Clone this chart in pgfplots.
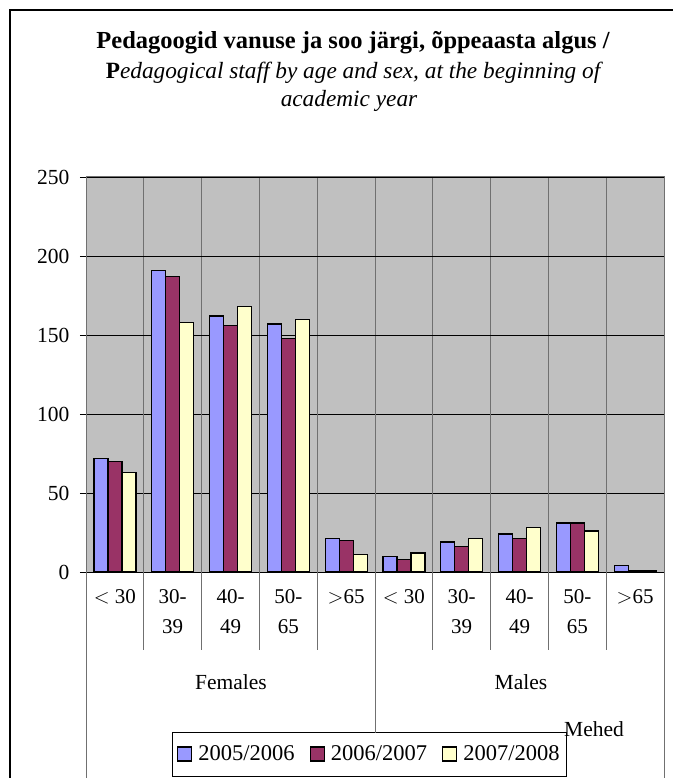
\documentclass[border=0pt]{standalone}
\usepackage{fontspec}
\setmainfont{Liberation Serif}
\usepackage{pgfplots}
\pgfplotsset{compat=1.18}

\definecolor{sA}{HTML}{9999FF}
\definecolor{sB}{HTML}{993366}
\definecolor{sC}{HTML}{FFFFCC}
\definecolor{plotbg}{HTML}{C0C0C0}
\definecolor{divgray}{HTML}{707070}

\begin{document}
\begin{tikzpicture}[x=1pt,y=1pt]
\useasboundingbox (0,0) rectangle (673,778);
\fill[white] (0,0) rectangle (673,778);
\draw[black, line width=1.2pt] (10,0) -- (10,768) -- (673,768);

% title
\node[font=\fontsize{24.5}{28}\selectfont\bfseries] at (353,735) {Pedagoogid vanuse ja soo järgi, õppeaasta algus /};
\node[font=\fontsize{23.3}{27}\selectfont\itshape] at (353,705) {\textup{\bfseries P}edagogical staff by age and sex, at the beginning of};
\node[font=\fontsize{23.3}{27}\selectfont\itshape] at (349,677) {academic year};

\begin{axis}[
    at={(86pt,206pt)}, anchor=south west,
    width=578pt, height=395pt, scale only axis,
    xmin=-0.5, xmax=9.5, ymin=0, ymax=250,
    ybar=0pt, bar width=14pt,
    axis background/.style={fill=plotbg},
    axis line style={draw=none},
    ytick={0,50,100,150,200,250},
    ytick pos=left, tick align=outside, major tick length=6pt,
    y tick style={black, line width=0.8pt},
    xtick={0,...,9},
    xticklabels={{$<$ 30},{30-\\39},{40-\\49},{50-\\65},{$>$65},{$<$ 30},{30-\\39},{40-\\49},{50-\\65},{$>$65}},
    x tick style={draw=none},
    minor xtick={0.5,1.5,...,8.5},
    xminorgrids, minor x grid style={divgray, line width=1pt},
    ymajorgrids, major y grid style={black, line width=0.8pt},
    yticklabel style={font=\fontsize{21.5}{25}\selectfont, xshift=-7pt},
    xticklabel style={font=\fontsize{21}{30}\selectfont, align=center, anchor=north, yshift=-8pt},
    /pgf/number format/assume math mode=true,
    legend style={at={(0.1488,-0.5165)}, anchor=south west, draw=black, fill=white,
        font=\fontsize{22.5}{26}\selectfont, inner xsep=5pt, inner ysep=11.5pt,
        nodes={inner sep=2pt},
        legend cell align=left,
        /tikz/every odd column/.append style={column sep=4pt},
        /tikz/every even column/.append style={column sep=13pt}},
    legend columns=3,
    legend image code/.code={\draw[#1, line width=1.2pt] (0pt,-7pt) rectangle (14pt,7pt);},
]
\addplot[fill=sA, draw=black, line width=1.2pt] coordinates {
    (0,72) (1,191) (2,162) (3,157) (4,21)
    (5,10) (6,19) (7,24) (8,31) (9,4)};
\addplot[fill=sB, draw=black, line width=1.2pt] coordinates {
    (0,70) (1,187) (2,156) (3,148) (4,20)
    (5,8) (6,16) (7,21) (8,31) (9,1)};
\addplot[fill=sC, draw=black, line width=1.2pt] coordinates {
    (0,63) (1,158) (2,168) (3,160) (4,11)
    (5,12) (6,21) (7,28) (8,26) (9,1)};
\legend{2005/2006,2006/2007,2007/2008}
\end{axis}

% plot frame and category table lines
\draw[divgray, line width=1pt] (86,0) -- (86,601) -- (664,601) -- (664,0);
\draw[divgray, line width=1pt] (375,45) -- (375,395);
\foreach \k in {1,2,3,4,6,7,8,9} {
    \draw[divgray, line width=1pt] (86+57.8*\k,395) -- (86+57.8*\k,128);
}
\node[font=\fontsize{21.5}{25}\selectfont] at (231,96) {Females};
\node[font=\fontsize{21.5}{25}\selectfont] at (521,96) {Males};
\node[font=\fontsize{21.5}{25}\selectfont] at (594,49) {Mehed};
\end{tikzpicture}
\end{document}
